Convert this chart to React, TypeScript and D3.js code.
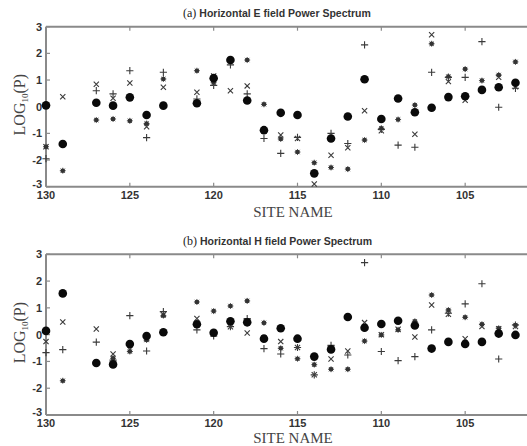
import React from "react";
import * as d3 from "d3";

// site numbers along the x axis (128 and 122 have no data)
const sites = [130, 129, 127, 126, 125, 124, 123, 121, 120, 119, 118, 117, 116, 115, 114, 113, 112, 111, 110, 109, 108, 107, 106, 105, 104, 103, 102, 101];

// (a) Horizontal E field
const eDot = [0.05, -1.4, 0.15, 0.04, 0.35, -0.31, 0.04, 0.13, 1.07, 1.75, 0.23, -0.88, -0.23, -0.31, -2.5, -1.19, -0.37, 1.03, -0.46, 0.31, -0.21, -0.04, 0.36, 0.39, 0.63, 0.73, 0.9, -2.3];
const eStar = [-1.5, -2.4, -0.5, -0.46, -0.53, -0.63, 1.04, 1.35, 0.9, 1.7, 1.75, 0.09, -1.21, -1.7, -2.1, -2.28, -2.34, -1.25, -0.81, -0.48, 0.06, 2.36, 1.13, 1.41, 0.98, 1.19, 1.68, 1.0];
const eCross = [-1.5, 0.37, 0.84, 0.32, 0.89, -0.75, 0.73, 0.54, 1.15, 0.6, 0.78, -0.9, -1.06, -1.19, -2.9, -1.82, -1.54, -0.15, -0.9, 0.3, -1.03, 2.7, 0.94, 0.24, 0.63, 1.1, 0.75, -1.0];
const ePlus = [-1.95, -1.38, 0.6, 0.48, 1.35, -1.16, 1.29, 0.29, 0.8, 1.57, 0.48, -1.19, -1.75, -1.15, -2.5, -1.0, -1.38, 2.32, -0.85, -1.44, -1.52, 1.29, 1.1, 1.1, 2.44, -0.02, 0.69, 2.05];

// (b) Horizontal H field
const hDot = [0.14, 1.54, -1.06, -1.11, -0.35, -0.05, 0.09, 0.39, 0.07, 0.5, 0.46, -0.15, 0.24, -0.15, -0.82, -0.55, 0.66, 0.26, 0.4, 0.52, 0.34, -0.52, -0.27, -0.35, -0.27, 0.04, -0.01, null];
const hStar = [0.1, -1.72, -1.05, -0.88, -0.63, -0.2, 0.71, 1.22, 0.88, 1.07, 1.26, 0.44, -0.51, -0.9, -1.12, -1.29, -1.29, -0.24, -0.01, 0.18, 0.5, 1.48, 0.92, 0.65, 0.39, 0.24, 0.36, 1.05];
const hCross = [-0.26, 0.47, 0.21, -0.72, -0.55, -0.15, 0.75, 0.6, 0.02, 0.29, 0.06, -0.12, -0.26, -0.48, -1.5, -0.91, -0.61, 0.45, 0.0, 0.2, -0.09, 1.11, 0.76, -0.15, 0.3, 0.22, 0.3, null];
const hPlus = [-0.67, -0.56, -0.28, -0.95, 0.71, -0.61, 0.86, 0.18, -0.05, 0.3, 0.6, -0.52, -0.72, -0.48, -1.5, -0.4, -0.76, 2.69, -0.63, -0.97, -0.82, 0.18, 0.8, 1.15, 1.9, -0.91, 0.36, 2.1];

const xTicks = [130, 125, 120, 115, 110, 105, 100];
const yTicks = [3, 2, 1, 0, -1, -2, -3];

const W = 527;
const H = 446;
const axisColor = "#8a8a8a";
const sans = "'Liberation Sans', Arial, sans-serif";
const serif = "'Liberation Serif', 'Times New Roman', serif";

const x = d3.scaleLinear().domain([130, 100]).range([46, 549]);

function Panel(props) {
  const { top, bottom, letter, name, dot, star, cross, plus, titleY, labelY } = props;
  const y = d3.scaleLinear().domain([-3, 3]).range([bottom, top]);
  const pts = (vals) =>
    sites.map((s, i) => ({ s, v: vals[i] })).filter((d) => d.v !== null && d.v !== undefined);

  return (
    <g>
      {/* frame */}
      <line x1={x(130)} x2={W} y1={y(3)} y2={y(3)} stroke={axisColor} strokeWidth={2} />
      <line x1={x(130)} x2={W} y1={y(-3)} y2={y(-3)} stroke={axisColor} strokeWidth={2} />
      <line x1={x(130)} x2={x(130)} y1={y(3)} y2={y(-3)} stroke={axisColor} strokeWidth={2} />
      {xTicks.map((t) => (
        <g key={"xt" + t}>
          <line x1={x(t)} x2={x(t)} y1={y(3)} y2={y(3) + 4} stroke={axisColor} strokeWidth={1.2} />
          <line x1={x(t)} x2={x(t)} y1={y(-3)} y2={y(-3) - 4} stroke={axisColor} strokeWidth={1.2} />
          {t !== 100 && (
            <text x={x(t)} y={y(-3) + 12} textAnchor="middle" fontFamily={sans} fontSize={11} fontWeight="bold" fill="#333">
              {t}
            </text>
          )}
        </g>
      ))}
      {yTicks.map((t) => (
        <g key={"yt" + t}>
          <line x1={x(130)} x2={x(130) + 4} y1={y(t)} y2={y(t)} stroke={axisColor} strokeWidth={1.2} />
          <text x={x(130) - 4} y={y(t) + 4 - (t === -3 ? 3 : 0)} textAnchor="end" fontFamily={sans} fontSize={11} fontWeight="bold" fill="#333">
            {t}
          </text>
        </g>
      ))}

      {/* title */}
      <text x={183} y={titleY} fontSize={12} fill="#222">
        <tspan fontFamily={serif}>({letter}) </tspan>
        <tspan fontFamily={sans} fontSize={10.5} fontWeight="bold" fill="#333">{`Horizontal ${name} field Power Spectrum`}</tspan>
      </text>

      {/* axis labels */}
      <text x={293} y={labelY} textAnchor="middle" fontFamily={serif} fontSize={15} fill="#444">
        SITE NAME
      </text>
      <text
        transform={`translate(25,${(top + bottom) / 2 - 2}) rotate(-90)`}
        textAnchor="middle"
        fontFamily={serif}
        fontSize={16}
        fill="#444"
      >
        LOG<tspan fontSize={9} dy={3}>10</tspan>
        <tspan dy={-3}>(P)</tspan>
      </text>

      {/* markers */}
      {pts(plus).map((d, i) => (
        <path key={"p" + i} transform={`translate(${x(d.s)},${y(d.v)})`} d="M-3.6,0H3.6M0,-3.6V3.6" stroke="#3a3a3a" strokeWidth={1.1} fill="none" />
      ))}
      {pts(cross).map((d, i) => (
        <path key={"c" + i} transform={`translate(${x(d.s)},${y(d.v)})`} d="M-2.6,-2.6L2.6,2.6M-2.6,2.6L2.6,-2.6" stroke="#3a3a3a" strokeWidth={1.1} fill="none" />
      ))}
      {pts(star).map((d, i) => (
        <g key={"s" + i} transform={`translate(${x(d.s)},${y(d.v)})`}>
          <path d="M-3,0H3M0,-3V3M-2.2,-2.2L2.2,2.2M-2.2,2.2L2.2,-2.2" stroke="#555" strokeWidth={0.9} />
          <circle r={2.3} fill="#333" />
        </g>
      ))}
      {pts(dot).map((d, i) => (
        <circle key={"d" + i} cx={x(d.s)} cy={y(d.v)} r={4.3} fill="#0a0a0a" />
      ))}
    </g>
  );
}

export default function App() {
  return (
    <svg width={W} height={H} style={{ position: "absolute", left: 0, top: 0, background: "#fff" }}>
      <Panel top={26.7} bottom={186.7} letter="a" name="E" dot={eDot} star={eStar} cross={eCross} plus={ePlus} titleY={16.5} labelY={217} />
      <Panel top={254.3} bottom={415} letter="b" name="H" dot={hDot} star={hStar} cross={hCross} plus={hPlus} titleY={245} labelY={443} />
    </svg>
  );
}
